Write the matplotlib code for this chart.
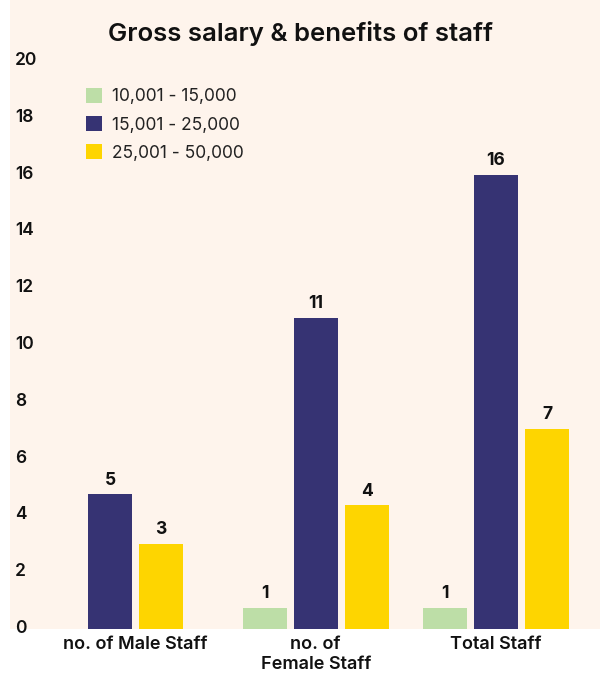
import matplotlib
matplotlib.use("Agg")
import matplotlib.pyplot as plt
import matplotlib.transforms as mtransforms
from matplotlib.patches import Rectangle, Patch

plt.rcParams['font.family'] = ['Inter', 'DejaVu Sans']

title = "Gross salary & benefits of staff"
categories = ["no. of Male Staff", "no. of\nFemale Staff", "Total Staff"]
series_names = ["10,001 - 15,000", "15,001 - 25,000", "25,001 - 50,000"]
# bar heights as drawn in the picture
band_10_15 = [0, 0.75, 0.75]
band_15_25 = [4.75, 10.95, 16]
band_25_50 = [3.0, 4.35, 7.05]
# value labels as printed
labels_10_15 = ["", "1", "1"]
labels_15_25 = ["5", "11", "16"]
labels_25_50 = ["3", "4", "7"]
yticks = [0, 2, 4, 6, 8, 10, 12, 14, 16, 18, 20]

colors = ["#bddea7", "#363373", "#fed500"]
bg = "#fef4ec"

W, H = 600, 673
fig = plt.figure(figsize=(W / 100, H / 100), dpi=100, facecolor="white")
fig.patches.append(Rectangle((10 / W, 44 / H), 1 - 10 / W, 1 - 44 / H,
                             transform=fig.transFigure, facecolor=bg,
                             edgecolor="none", zorder=-10))

ax = fig.add_axes([15 / W, 44 / H, 585 / W, 568 / H])
ax.set_facecolor("none")
ax.set_zorder(1)

series = [band_10_15, band_15_25, band_25_50]
labels = [labels_10_15, labels_15_25, labels_25_50]
width = 0.244
step = 0.283
for ci in range(len(categories)):
    present = [si for si in range(len(series)) if series[si][ci] > 0]
    n = len(present)
    for k, si in enumerate(present):
        x = ci + (k - (n - 1) / 2) * step
        v = series[si][ci]
        ax.bar(x, v, width=width, color=colors[si], zorder=2)
        ax.annotate(labels[si][ci], (x, v), xytext=(0, 4), textcoords="offset points",
                    ha="center", va="bottom", fontsize=12.5, fontweight="bold",
                    color="#111111")

ax.set_xlim(-0.6685, 2.577)
ax.set_ylim(0, 20)
ax.set_yticks(yticks)
ax.set_yticklabels([str(t) for t in yticks], ha="left", fontsize=12.5,
                   fontweight="semibold", color="#111111")
ax.tick_params(axis="y", length=0, pad=0)
shift = mtransforms.ScaledTranslation(0, 2.5 / 100, fig.dpi_scale_trans)
for lbl in ax.get_yticklabels():
    lbl.set_transform(lbl.get_transform() + shift)
ax.set_xticks(range(len(categories)))
ax.set_xticklabels(categories, fontsize=13, fontweight="semibold",
                   color="#111111", linespacing=1.2)
ax.tick_params(axis="x", length=0, pad=5)
for s in ax.spines.values():
    s.set_visible(False)

fig.text(0.5, 1 - 34 / H, title, ha="center", va="center", fontsize=18.5,
         fontweight="semibold", color="#111111")

handles = [Patch(facecolor=c, edgecolor="none") for c in colors]
ax.legend(handles, series_names, loc="upper left",
          bbox_to_anchor=(86 / W, 1 - 88 / H), bbox_transform=fig.transFigure,
          frameon=False, fontsize=12.5, borderpad=0, borderaxespad=0,
          handlelength=0.95, handleheight=0.95, handletextpad=0.55,
          labelspacing=0.62, labelcolor="#222222")

fig.savefig("out.png", dpi=100, facecolor="white")
